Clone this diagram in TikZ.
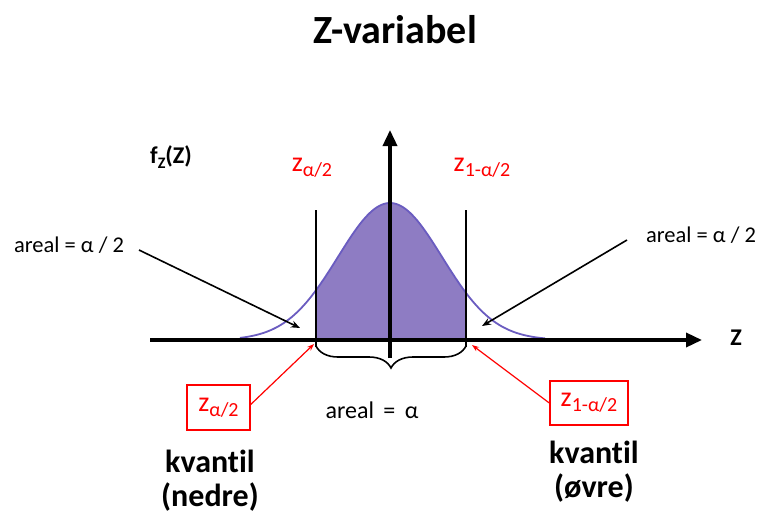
\documentclass[tikz,border=0pt]{standalone}
\usepackage{fontspec}
\setmainfont{Carlito}[Ligatures=NoCommon]
\usetikzlibrary{arrows.meta,decorations.pathreplacing}
\definecolor{bellfill}{HTML}{8E7CC3}
\definecolor{bellline}{HTML}{6A5CC0}
\definecolor{myred}{HTML}{FF0000}
\tikzset{
  lbl/.style={inner sep=0pt, font=\fontsize{22.5}{26}\selectfont},
  midlbl/.style={inner sep=0pt, font=\fontsize{24}{28}\selectfont},
  redlbl/.style={inner sep=0pt, text=myred, font=\fontsize{28}{30}\selectfont},
  redbox/.style={draw=myred, line width=1.4pt, inner sep=0pt, minimum width=63pt, minimum height=45pt, text=myred, font=\fontsize{28}{30}\selectfont},
  boldlbl/.style={inner sep=0pt, font=\bfseries\fontsize{32}{34}\selectfont, align=center},
  blackarrow/.style={line width=1.6pt, -{Stealth[length=9pt,width=7pt]}},
  redarrow/.style={line width=1.2pt, myred, -{Stealth[length=7pt,width=5pt]}},
  axisline/.style={line width=3.5pt},
}
\newcommand{\zsub}[1]{z\raisebox{-0.35ex}{\fontsize{20}{22}\selectfont #1}}
\begin{document}
\begin{tikzpicture}[x=1pt,y=-1pt]
\useasboundingbox (0,0) rectangle (758,514);
% fill under curve
\fill[bellfill] (316,340) -- plot[domain=-74:76,samples=80] ({390+\x},{340-137*exp(-0.5*(\x/52)*(\x/52))}) -- (466,340) -- cycle;
% curve
\draw[bellline, line width=1.8pt] plot[domain=-150:155,samples=120] ({390+\x},{340-137*exp(-0.5*(\x/52)*(\x/52))});
% axes
\coordinate (xstart) at (150,340);
\coordinate (xend) at (702,340);
\draw[axisline, -{Triangle[length=16pt,width=14pt]}] (xstart) -- (xend);
\coordinate (ybot) at (390,358);
\coordinate (ytop) at (390,130);
\draw[axisline, -{Triangle[length=16pt,width=14pt]}] (ybot) -- (ytop);
% quantile lines
\coordinate (ltop) at (316,210); \coordinate (lbot) at (316,347);
\coordinate (rtop) at (466,210); \coordinate (rbot) at (466,347);
\draw[line width=1.6pt] (ltop) -- (lbot);
\draw[line width=1.6pt] (rtop) -- (rbot);
% brace
\coordinate (bl) at (316,346); \coordinate (br) at (466,346);
\draw[line width=1.6pt, decorate, decoration={brace, amplitude=22pt}] (br) -- (bl);
% labels
\node[inner sep=0pt, font=\bfseries\fontsize{40}{44}\selectfont] (title) at (395,30) {Z-variabel};
\node[inner sep=0pt, font=\bfseries\fontsize{24}{26}\selectfont] (fz) at (171,157) {f\raisebox{-0.4ex}{\fontsize{16}{18}\selectfont Z}(Z)};
\node[redlbl] (zl) at (312,168) {\zsub{α/2}};
\node[redlbl] (zr) at (482,168) {\zsub{1-α/2}};
\node[lbl] (al) at (69,245) {areal = α / 2};
\node[lbl] (ar) at (701,235) {areal = α / 2};
\node[midlbl] (am) at (372,410) {areal \,=\, α};
\node[inner sep=0pt, font=\bfseries\fontsize{24}{26}\selectfont] (zax) at (736,338) {Z};
% arrows from area labels
\coordinate (alend) at (300,328);
\coordinate (arend) at (482,326);
\draw[blackarrow] (139,250) -- (alend);
\draw[blackarrow] (627,240) -- (arend);
% red boxes
\node[redbox] (bxl) at (218.5,407.5) {\zsub{α/2}};
\node[redbox, minimum width=78pt, minimum height=44pt] (bxr) at (589,403) {\zsub{1-α/2}};
\coordinate (ql) at (314,344);
\coordinate (qr) at (472,345);
\draw[redarrow] (bxl.east) ++(0,-3) -- (ql);
\draw[redarrow] (bxr.west) -- (qr);
% kvantil labels
\node[boldlbl] (kl) at (210,481) {kvantil\\(nedre)};
\node[boldlbl] (kr) at (594,472) {kvantil\\(øvre)};
\end{tikzpicture}
\end{document}
